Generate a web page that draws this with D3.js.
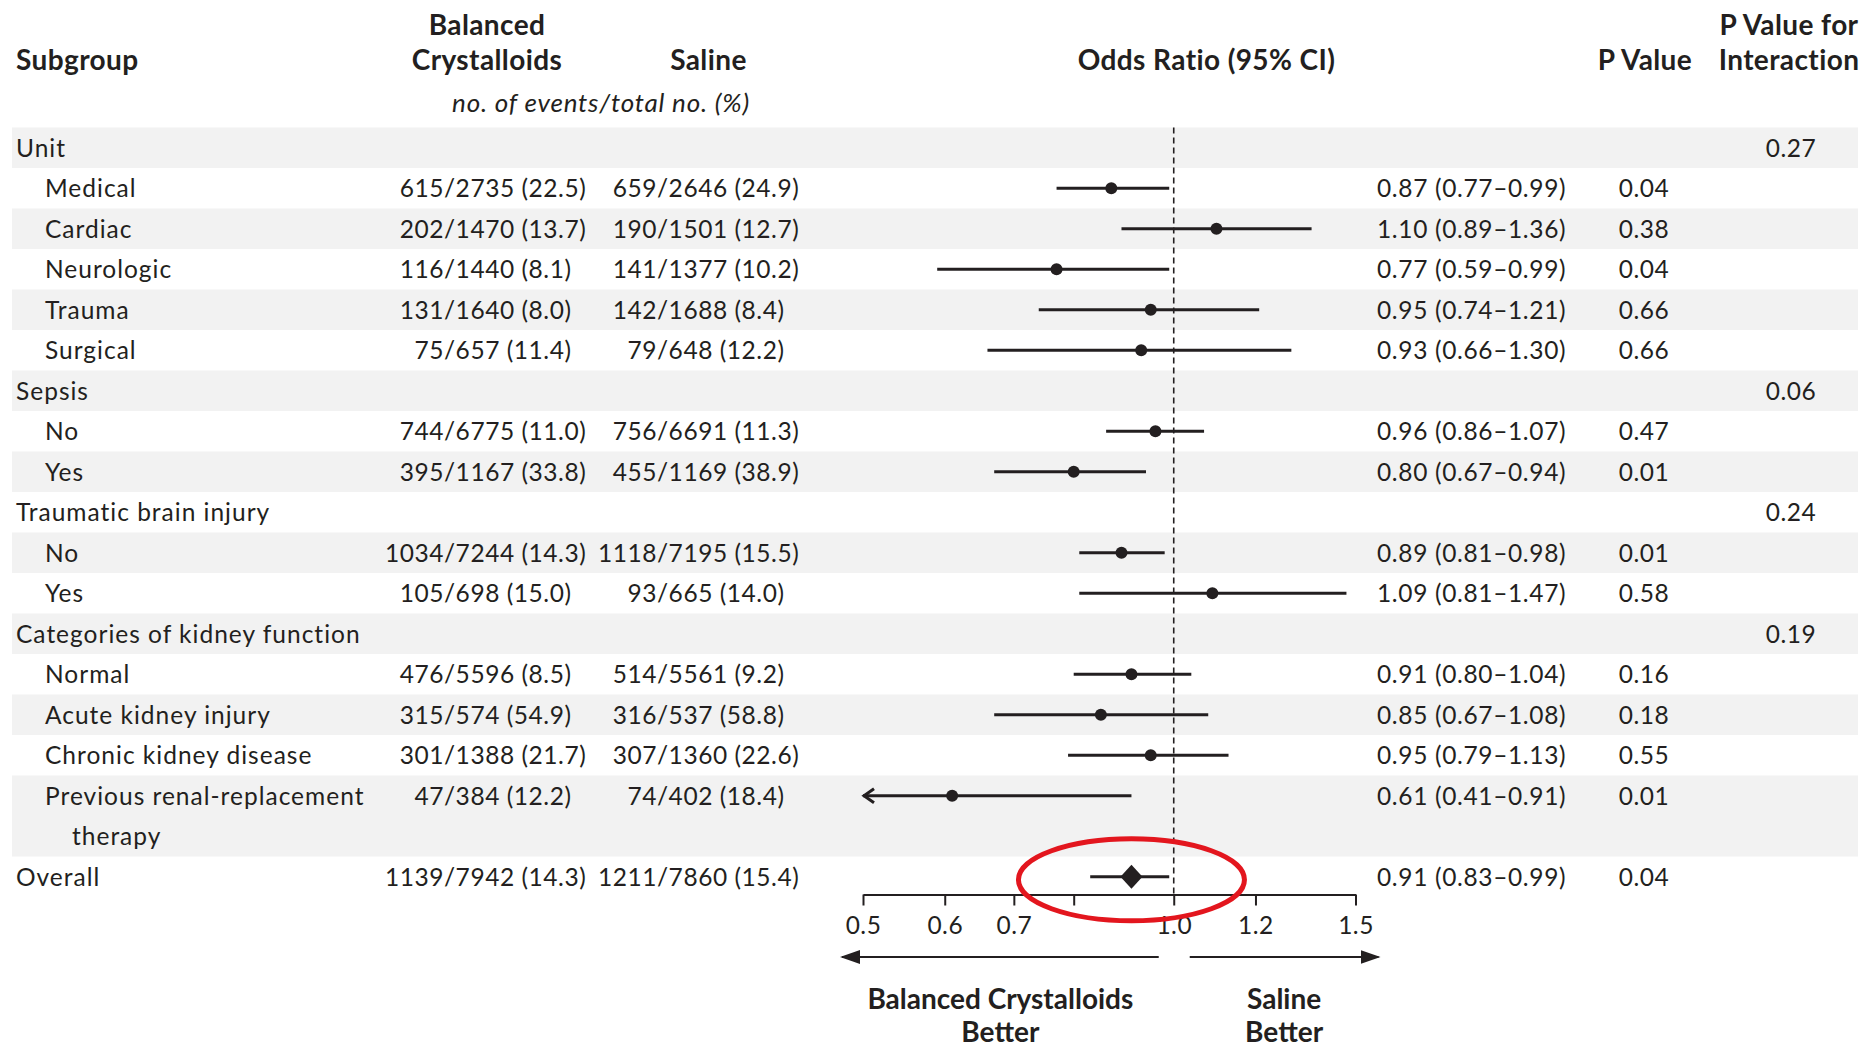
<!DOCTYPE html>
<html>
<head>
<meta charset="utf-8">
<script src="https://cdn.jsdelivr.net/npm/d3@7"></script>
<style>
  html, body { margin: 0; padding: 0; background: #fff; }
  svg { display: block; }
  text { font-family: Lato, "Open Sans", sans-serif; fill: #231f20; }
</style>
</head>
<body>
<script>
// Subgroup rows (a "\n" splits a label over two lines)
const subgroupLabels = [
  "Unit", "Medical", "Cardiac", "Neurologic", "Trauma", "Surgical",
  "Sepsis", "No", "Yes",
  "Traumatic brain injury", "No", "Yes",
  "Categories of kidney function", "Normal", "Acute kidney injury",
  "Chronic kidney disease", "Previous renal-replacement\ntherapy",
  "Overall"
];
// 0 = heading, 1 = subgroup item, 2 = overall
const subgroupLevel = [0,1,1,1,1,1, 0,1,1, 0,1,1, 0,1,1,1,1, 2];

const balancedEvents = [null,"615/2735 (22.5)","202/1470 (13.7)","116/1440 (8.1)","131/1640 (8.0)","75/657 (11.4)",
  null,"744/6775 (11.0)","395/1167 (33.8)",
  null,"1034/7244 (14.3)","105/698 (15.0)",
  null,"476/5596 (8.5)","315/574 (54.9)","301/1388 (21.7)","47/384 (12.2)",
  "1139/7942 (14.3)"];
const salineEvents = [null,"659/2646 (24.9)","190/1501 (12.7)","141/1377 (10.2)","142/1688 (8.4)","79/648 (12.2)",
  null,"756/6691 (11.3)","455/1169 (38.9)",
  null,"1118/7195 (15.5)","93/665 (14.0)",
  null,"514/5561 (9.2)","316/537 (58.8)","307/1360 (22.6)","74/402 (18.4)",
  "1211/7860 (15.4)"];

const oddsRatio = [null,0.87,1.10,0.77,0.95,0.93, null,0.96,0.80, null,0.89,1.09, null,0.91,0.85,0.95,0.61, 0.91];
const ciLower   = [null,0.77,0.89,0.59,0.74,0.66, null,0.86,0.67, null,0.81,0.81, null,0.80,0.67,0.79,0.41, 0.83];
const ciUpper   = [null,0.99,1.36,0.99,1.21,1.30, null,1.07,0.94, null,0.98,1.47, null,1.04,1.08,1.13,0.91, 0.99];
const pValues   = [null,"0.04","0.38","0.04","0.66","0.66", null,"0.47","0.01", null,"0.01","0.58", null,"0.16","0.18","0.55","0.01", "0.04"];
const pInteraction = ["0.27",null,null,null,null,null, "0.06",null,null, "0.24",null,null, "0.19",null,null,null,null, null];

const axisTicks = [0.5, 0.6, 0.7, 0.8, 1.0, 1.2, 1.5];
const unlabeledTicks = [0.8];

const W = 1864, H = 1047;
const ink = "#231f20";

const svg = d3.select("body").append("svg").attr("width", W).attr("height", H);
svg.append("rect").attr("width", W).attr("height", H).attr("fill", "#fff");

// Build row records with their starting text line
let lineCursor = 0;
const rows = subgroupLabels.map((label, i) => {
  const lines = label.split("\n");
  const r = {
    i, lines, level: subgroupLevel[i], first: lineCursor,
    balanced: balancedEvents[i], saline: salineEvents[i],
    or: oddsRatio[i], lo: ciLower[i], hi: ciUpper[i],
    p: pValues[i], pint: pInteraction[i]
  };
  lineCursor += lines.length;
  return r;
});
const totalLines = lineCursor;

// Scales
const rowH = 40.5;
const y = d3.scaleBand().domain(d3.range(totalLines)).range([127.5, 127.5 + totalLines * rowH]).padding(0);
const x = d3.scaleLog().domain([0.5, 1.5]).range([863, 1355.5]);
const yc = line => y(line) + y.bandwidth() / 2;
const axisY = 894.5;

// Zebra bands
svg.append("g").selectAll("rect")
  .data(rows.filter(r => r.i % 2 === 0))
  .join("rect")
  .attr("x", 12).attr("width", 1846)
  .attr("y", r => y(r.first))
  .attr("height", r => y.bandwidth() * r.lines.length)
  .attr("fill", "#f2f2f2");

// Column headings
const head = svg.append("g").attr("font-weight", 700).style("font-size", "28px").style("letter-spacing", "0.4px");
head.append("text").attr("x", 16).attr("y", 69.5).text("Subgroup");
head.append("text").attr("x", 487).attr("y", 35).attr("text-anchor", "middle").text("Balanced");
head.append("text").attr("x", 487).attr("y", 69.5).attr("text-anchor", "middle").text("Crystalloids");
head.append("text").attr("x", 708.5).attr("y", 69.5).attr("text-anchor", "middle").text("Saline");
head.append("text").attr("x", 1206.5).attr("y", 69.5).attr("text-anchor", "middle").text("Odds Ratio (95% CI)");
head.append("text").attr("x", 1645).attr("y", 69.5).attr("text-anchor", "middle").text("P Value");
head.append("text").attr("x", 1789).attr("y", 35).attr("text-anchor", "middle").text("P Value for");
head.append("text").attr("x", 1789).attr("y", 69.5).attr("text-anchor", "middle").text("Interaction");
svg.append("text").attr("x", 601).attr("y", 112).attr("text-anchor", "middle")
  .attr("font-style", "italic").style("font-size", "26px").style("letter-spacing", "0.8px")
  .text("no. of events/total no. (%)");

// Row text
const body = svg.append("g").style("font-size", "24.5px");
const labelSpacing = "1px", numberSpacing = "0.55px";
rows.forEach(r => {
  r.lines.forEach((ln, k) => {
    const lx = r.level === 1 ? (k === 0 ? 45 : 72) : 16;
    body.append("text").attr("x", lx).attr("y", yc(r.first + k)).attr("dy", "0.36em")
      .style("letter-spacing", labelSpacing).text(ln);
  });
  const cy = yc(r.first);
  // event counts aligned on the slash
  [[r.balanced, 444], [r.saline, 657]].forEach(([s, sx]) => {
    if (!s) return;
    const cut = s.indexOf("/");
    body.append("text").attr("x", sx).attr("y", cy).attr("dy", "0.36em")
      .style("letter-spacing", numberSpacing)
      .attr("text-anchor", "end").text(s.slice(0, cut));
    body.append("text").attr("x", sx).attr("y", cy).attr("dy", "0.36em")
      .style("letter-spacing", numberSpacing).text(s.slice(cut));
  });
  if (r.or != null) {
    const f = d3.format(".2f");
    body.append("text").attr("x", 1377).attr("y", cy).attr("dy", "0.36em")
      .style("letter-spacing", "0.65px")
      .text(`${f(r.or)} (${f(r.lo)}\u2013${f(r.hi)})`);
  }
  if (r.p) body.append("text").attr("x", 1644).attr("y", cy).attr("dy", "0.36em")
    .style("letter-spacing", numberSpacing).attr("text-anchor", "middle").text(r.p);
  if (r.pint) body.append("text").attr("x", 1791).attr("y", cy).attr("dy", "0.36em")
    .style("letter-spacing", numberSpacing).attr("text-anchor", "middle").text(r.pint);
});

// Reference line at OR = 1
svg.append("line")
  .attr("x1", x(1)).attr("x2", x(1))
  .attr("y1", y(0)).attr("y2", axisY)
  .attr("stroke", ink).attr("stroke-width", 1.6).attr("stroke-dasharray", "6,4");

// Confidence intervals and estimates
const [dMin, dMax] = x.domain();
const marks = svg.append("g");
rows.filter(r => r.or != null).forEach(r => {
  const cy = yc(r.first);
  const lo = Math.max(r.lo, dMin), hi = Math.min(r.hi, dMax);
  marks.append("line")
    .attr("x1", x(lo)).attr("x2", x(hi)).attr("y1", cy).attr("y2", cy)
    .attr("stroke", ink).attr("stroke-width", 3);
  if (r.lo < dMin) {
    const ax = x(dMin);
    marks.append("path")
      .attr("d", `M${ax + 11},${cy - 7}L${ax + 1},${cy}L${ax + 11},${cy + 7}`)
      .attr("fill", "none").attr("stroke", ink).attr("stroke-width", 3);
  }
  if (r.level === 2) {
    const cx = x(r.or);
    marks.append("path")
      .attr("d", `M${cx},${cy - 12}L${cx + 11},${cy}L${cx},${cy + 12}L${cx - 11},${cy}Z`)
      .attr("fill", ink);
  } else {
    marks.append("circle").attr("cx", x(r.or)).attr("cy", cy).attr("r", 6).attr("fill", ink);
  }
});

// Axis
const axis = d3.axisBottom(x)
  .tickValues(axisTicks)
  .tickFormat(d => unlabeledTicks.includes(d) ? "" : d3.format(".1f")(d))
  .tickSize(11).tickSizeOuter(0).tickPadding(11);
const ag = svg.append("g").attr("transform", `translate(0,${axisY})`).call(axis);
ag.select(".domain").attr("stroke", ink).attr("stroke-width", 2);
ag.selectAll(".tick line").attr("stroke", ink).attr("stroke-width", 2);
ag.selectAll(".tick text").attr("fill", ink)
  .style("font-family", "Lato, 'Open Sans', sans-serif").style("font-size", "24.5px")
  .style("letter-spacing", "0.5px");

// Direction arrows
const defs = svg.append("defs");
defs.append("marker").attr("id", "head")
  .attr("viewBox", "0 0 20 14").attr("refX", 18).attr("refY", 7)
  .attr("markerWidth", 20).attr("markerHeight", 14).attr("markerUnits", "userSpaceOnUse")
  .attr("orient", "auto")
  .append("path").attr("d", "M0,0L20,7L0,14Z").attr("fill", ink);
const arrowY = 957;
const leftArrow = [x(1) - 15, x(dMin) - 21];
const rightArrow = [x(1) + 16, x(dMax) + 23];
[leftArrow, rightArrow].forEach(([a, b]) => {
  svg.append("line").attr("x1", a).attr("x2", b).attr("y1", arrowY).attr("y2", arrowY)
    .attr("stroke", ink).attr("stroke-width", 2).attr("marker-end", "url(#head)");
});
const foot = svg.append("g").attr("font-weight", 700).style("font-size", "28px").attr("text-anchor", "middle");
const lMid = (leftArrow[0] + leftArrow[1]) / 2, rMid = (rightArrow[0] + rightArrow[1]) / 2;
foot.append("text").attr("x", lMid).attr("y", 1008.5).text("Balanced Crystalloids");
foot.append("text").attr("x", lMid).attr("y", 1042).text("Better");
foot.append("text").attr("x", rMid).attr("y", 1008.5).text("Saline");
foot.append("text").attr("x", rMid).attr("y", 1042).text("Better");

// Highlight around the overall estimate
const overall = rows[rows.length - 1];
svg.append("ellipse")
  .attr("cx", x(overall.or)).attr("cy", yc(overall.first) + 3)
  .attr("rx", 113).attr("ry", 41)
  .attr("fill", "none").attr("stroke", "#e3161e").attr("stroke-width", 5);
</script>
</body>
</html>
